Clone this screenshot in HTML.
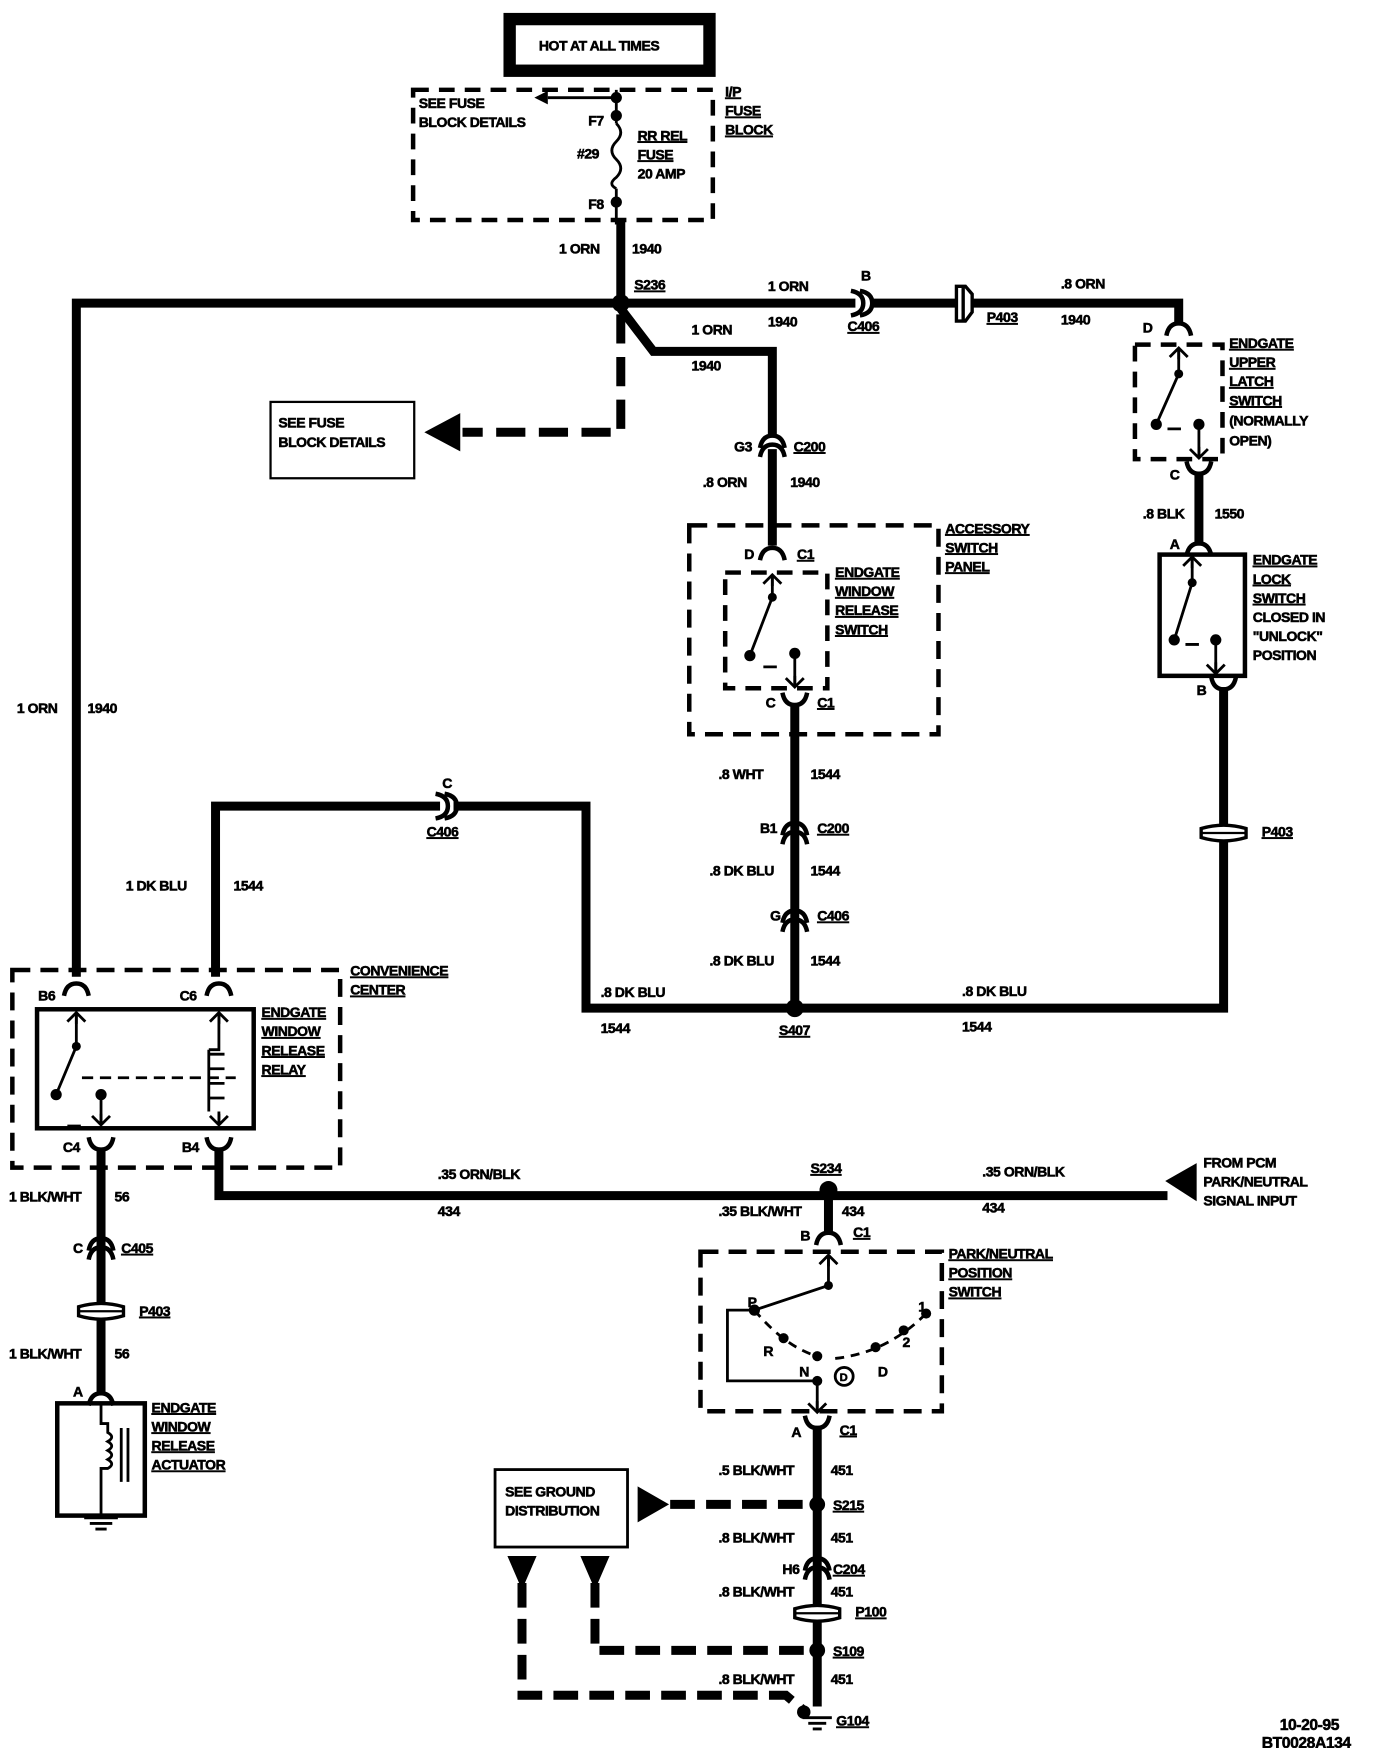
<!DOCTYPE html>
<html><head><meta charset="utf-8"><style>
html,body{margin:0;padding:0;background:#fff}
svg{display:block}
text{font-family:"Liberation Sans",sans-serif;font-weight:bold;font-size:12.5px;fill:#000;stroke:#000;stroke-width:0.5px;letter-spacing:-0.4px}
.u{text-decoration:underline}
</style></head><body>
<svg width="1392" height="1748" viewBox="0 0 1240 1557" preserveAspectRatio="none" xmlns="http://www.w3.org/2000/svg">
<defs>
<path id="cap" d="M-11,7 Q-9,-4 0,-4 Q9,-4 11,7" fill="none" stroke="#000" stroke-width="4"/>
<path id="cup" d="M-11,-7 Q-9,4 0,4 Q9,4 11,-7" fill="none" stroke="#000" stroke-width="4"/>
<g id="inl"><use href="#cap" y="-3"/><use href="#cap" y="5"/></g>
<path id="arrU" d="M-8,8 L0,0 L8,8 M0,0 V10" fill="none" stroke="#000" stroke-width="2.5"/>
<path id="arrD" d="M-8,-8 L0,0 L8,-8 M0,0 V-10" fill="none" stroke="#000" stroke-width="2.5"/>
<g id="pass"><path d="M-20,-4 Q0,-10 20,-4 V4 Q0,10 -20,4 Z" fill="#fff" stroke="#000" stroke-width="3"/><path d="M-20,0 H20" stroke="#000" stroke-width="2"/></g>
</defs>
<g fill="none" stroke="#000" stroke-linecap="butt">
<rect x="454" y="17" width="178" height="46" stroke-width="11"/>
<rect x="368" y="80" width="267" height="116" stroke-width="4" stroke-dasharray="14,9"/>
<path d="M549,80 V110 M549,168 V200" stroke-width="2.5"/>
<path d="M549,110 q8,8 0,16 q-8,8 0,16 q8,8 0,16 q-8,6 0,10" stroke-width="2.5"/>
<path d="M549,87 H488" stroke-width="2.5"/>
<path d="M553,196 V270 M553,270 H68 V870" stroke-width="8"/>
<path d="M553,270 H762 M778,270 H852 M862,270 H1050 V288" stroke-width="8"/>
<path d="M553,275 L582,313 H688 V388" stroke-width="8"/>
<path d="M553,280 V385 H412" stroke-width="8" stroke-dasharray="26,12"/>
<path d="M688,400 V486" stroke-width="8"/>
<path d="M708,628 V898" stroke-width="8"/>
<path d="M708,898 H522 V718 H404 M392,718 H192 V870" stroke-width="8"/>
<path d="M708,898 H1090 V612" stroke-width="8"/>
<path d="M1068,422 V486" stroke-width="8"/>
<path d="M195,1025 V1065 H1040" stroke-width="8"/>
<path d="M90,1025 V1242" stroke-width="8"/>
<path d="M738,1065 V1098" stroke-width="8"/>
<path d="M728,1270 V1520" stroke-width="8"/>
<rect x="614" y="468" width="222" height="186" stroke-width="4" stroke-dasharray="16,9"/>
<rect x="646" y="510" width="91" height="103" stroke-width="4" stroke-dasharray="14,9"/>
<rect x="1011" y="307" width="78" height="102" stroke-width="4" stroke-dasharray="14,9"/>
<rect x="1033" y="494" width="76" height="108" stroke-width="4"/>
<rect x="11" y="864" width="292" height="176" stroke-width="4" stroke-dasharray="16,9"/>
<rect x="33" y="899" width="193" height="106" stroke-width="4"/>
<rect x="624" y="1115" width="215" height="142" stroke-width="4" stroke-dasharray="16,9"/>
<rect x="51" y="1250" width="78" height="100" stroke-width="4"/>
<rect x="441" y="1309" width="118" height="69" stroke-width="2.5"/>
<rect x="241" y="358" width="128" height="68" stroke-width="2"/>
<path d="M597,1340 H722" stroke-width="8" stroke-dasharray="22,10"/>
<path d="M530,1410 V1470 H722" stroke-width="8" stroke-dasharray="22,10"/>
<path d="M465,1410 V1510 H700 L718,1525" stroke-width="8" stroke-dasharray="22,10"/>
</g>
<g>
<use href="#inl" x="770" y="270" transform="rotate(90 770 270)"/>
<use href="#inl" x="400" y="718" transform="rotate(90 400 718)"/>
<use href="#cap" x="1050" y="292"/>
<use href="#cup" x="1068" y="418"/>
<use href="#cap" x="1068" y="488"/>
<use href="#cup" x="1090" y="610"/>
<use href="#inl" x="688" y="395"/>
<use href="#cap" x="688" y="492"/>
<use href="#cup" x="708" y="624"/>
<use href="#inl" x="708" y="740"/>
<use href="#inl" x="708" y="818"/>
<use href="#cap" x="68" y="880"/>
<use href="#cap" x="195" y="880"/>
<use href="#cup" x="90" y="1020"/>
<use href="#cup" x="195" y="1020"/>
<use href="#inl" x="90" y="1110"/>
<use href="#cap" x="90" y="1245"/>
<use href="#cap" x="738" y="1102"/>
<use href="#cup" x="728" y="1268"/>
<use href="#inl" x="728" y="1395"/>
<use href="#pass" x="1090" y="742"/>
<use href="#pass" x="90" y="1168"/>
<use href="#pass" x="728" y="1437"/>
<path d="M852,255 H860 L866,262 V278 L860,286 H852 Z M858,255 V286" fill="#fff" stroke="#000" stroke-width="3"/>
</g>
<g fill="#000">
<circle cx="553" cy="270" r="8"/><circle cx="708" cy="898" r="8"/><circle cx="738" cy="1060" r="8"/>
<circle cx="728" cy="1340" r="7"/><circle cx="728" cy="1470" r="7"/><circle cx="716" cy="1525" r="6"/>
<circle cx="549" cy="87" r="5"/><circle cx="549" cy="103" r="5"/><circle cx="549" cy="180" r="5"/>
<path d="M488,81 L476,87 L488,93 Z"/>
<path d="M378,385 L410,368 V402 Z"/>
<path d="M1038,1052 L1066,1036 V1070 Z"/>
<path d="M596,1340 L568,1324 V1356 Z"/>
<path d="M452,1386 H478 L465,1416 Z M517,1386 H543 L530,1416 Z"/>
</g>
<g fill="none" stroke="#000" stroke-width="2.5">
<use href="#arrU" x="688" y="512"/><path d="M688,512 V532 L668,584 M680,594 H692 M708,582 V612"/><use href="#arrD" x="708" y="612"/>
<use href="#arrU" x="1050" y="310"/><path d="M1050,310 V333 L1030,378 M1040,382 H1052 M1068,378 V408"/><use href="#arrD" x="1068" y="408"/>
<use href="#arrU" x="1062" y="496"/><path d="M1062,496 V519 L1046,570 M1056,574 H1068 M1083,570 V600"/><use href="#arrD" x="1083" y="600"/>
<use href="#arrU" x="68" y="902"/><path d="M68,902 V932 L50,975 M60,1003 H72 M90,975 V1002"/><use href="#arrD" x="90" y="1002"/>
<path d="M73,960 H210" stroke-dasharray="10,6"/>
<use href="#arrU" x="195" y="902"/><path d="M195,902 V935 H186 M186,935 V990 M186,939 H200 M186,952 H200 M186,965 H200 M186,978 H200 M195,990 V1002"/><use href="#arrD" x="195" y="1002"/>
<use href="#arrU" x="738" y="1118"/><path d="M738,1118 V1145 L672,1167 M672,1167 H648 V1230 H728 V1258"/><use href="#arrD" x="728" y="1258"/>
<path d="M672,1167 Q700,1200 728,1208 M744,1210 Q790,1205 825,1170" stroke-dasharray="8,6"/>
<path d="M90,1250 V1268 H96 V1276 q7,4 0,8 q7,4 0,8 q7,4 0,8 q7,4 0,8 H90 V1352 M108,1272 V1320 M114,1272 V1320"/>
<path d="M75,1352 H105 M80,1357 H100 M85,1362 H95 M715,1530 H741 M720,1535 H736 M724,1540 H732"/>
<circle cx="752" cy="1226" r="8"/>
</g>
<g fill="#000">
<circle cx="688" cy="532" r="4"/><circle cx="668" cy="584" r="5"/><circle cx="708" cy="582" r="5"/>
<circle cx="1050" cy="333" r="4"/><circle cx="1030" cy="378" r="5"/><circle cx="1068" cy="378" r="5"/>
<circle cx="1062" cy="519" r="4"/><circle cx="1046" cy="570" r="5"/><circle cx="1083" cy="570" r="5"/>
<circle cx="68" cy="932" r="4"/><circle cx="50" cy="975" r="5"/><circle cx="90" cy="975" r="5"/>
<circle cx="738" cy="1145" r="4"/><circle cx="672" cy="1167" r="5"/><circle cx="698" cy="1192" r="4.5"/>
<circle cx="728" cy="1208" r="4.5"/><circle cx="728" cy="1230" r="4.5"/><circle cx="780" cy="1200" r="4.5"/>
<circle cx="805" cy="1185" r="4.5"/><circle cx="825" cy="1170" r="4.5"/>
</g>
<text x="480" y="45">HOT AT ALL TIMES</text>
<text x="373" y="96">SEE FUSE</text><text x="373" y="113">BLOCK DETAILS</text>
<text x="524" y="112">F7</text><text x="514" y="141">#29</text><text x="524" y="186">F8</text>
<text x="568" y="125" class="u">RR REL</text><text x="568" y="142" class="u">FUSE</text><text x="568" y="159">20 AMP</text>
<text x="646" y="86" class="u">I/P</text><text x="646" y="103" class="u">FUSE</text><text x="646" y="120" class="u">BLOCK</text>
<text x="498" y="226">1 ORN</text><text x="563" y="226">1940</text>
<text x="565" y="258" class="u">S236</text>
<text x="684" y="259">1 ORN</text><text x="684" y="291">1940</text>
<text x="767" y="250">B</text><text x="755" y="295" class="u">C406</text>
<text x="879" y="287" class="u">P403</text>
<text x="945" y="257">.8 ORN</text><text x="945" y="289">1940</text>
<text x="616" y="298">1 ORN</text><text x="616" y="330">1940</text>
<text x="248" y="381">SEE FUSE</text><text x="248" y="398">BLOCK DETAILS</text>
<text x="654" y="402">G3</text><text x="707" y="402" class="u">C200</text>
<text x="626" y="434">.8  ORN</text><text x="704" y="434">1940</text>
<text x="1018" y="296">D</text>
<text x="1095" y="310" class="u">ENDGATE</text><text x="1095" y="327" class="u">UPPER</text><text x="1095" y="344" class="u">LATCH</text><text x="1095" y="361" class="u">SWITCH</text><text x="1095" y="379">(NORMALLY</text><text x="1095" y="397">OPEN)</text>
<text x="1042" y="427">C</text>
<text x="1018" y="462">.8 BLK</text><text x="1082" y="462">1550</text>
<text x="1042" y="489">A</text>
<text x="1116" y="503" class="u">ENDGATE</text><text x="1116" y="520" class="u">LOCK</text><text x="1116" y="537" class="u">SWITCH</text><text x="1116" y="554">CLOSED  IN</text><text x="1116" y="571">"UNLOCK"</text><text x="1116" y="588">POSITION</text>
<text x="1066" y="619">B</text><text x="1124" y="745" class="u">P403</text>
<text x="842" y="475" class="u">ACCESSORY</text><text x="842" y="492" class="u">SWITCH</text><text x="842" y="509" class="u">PANEL</text>
<text x="663" y="498">D</text><text x="710" y="498" class="u">C1</text>
<text x="744" y="514" class="u">ENDGATE</text><text x="744" y="531" class="u">WINDOW</text><text x="744" y="548" class="u">RELEASE</text><text x="744" y="565" class="u">SWITCH</text>
<text x="682" y="630">C</text><text x="728" y="630" class="u">C1</text>
<text x="640" y="694">.8  WHT</text><text x="722" y="694">1544</text>
<text x="677" y="742">B1</text><text x="728" y="742" class="u">C200</text>
<text x="632" y="780">.8 DK BLU</text><text x="722" y="780">1544</text>
<text x="686" y="820">G</text><text x="728" y="820" class="u">C406</text>
<text x="632" y="860">.8 DK BLU</text><text x="722" y="860">1544</text>
<text x="394" y="702">C</text><text x="380" y="745" class="u">C406</text>
<text x="15" y="635">1 ORN</text><text x="78" y="635">1940</text>
<text x="112" y="793">1  DK  BLU</text><text x="208" y="793">1544</text>
<text x="535" y="888">.8 DK BLU</text><text x="535" y="920">1544</text>
<text x="694" y="922" class="u">S407</text>
<text x="857" y="887">.8 DK BLU</text><text x="857" y="919">1544</text>
<text x="312" y="869" class="u">CONVENIENCE</text><text x="312" y="886" class="u">CENTER</text>
<text x="34" y="891">B6</text><text x="160" y="891">C6</text>
<text x="233" y="906" class="u">ENDGATE</text><text x="233" y="923" class="u">WINDOW</text><text x="233" y="940" class="u">RELEASE</text><text x="233" y="957" class="u">RELAY</text>
<text x="56" y="1026">C4</text><text x="162" y="1026">B4</text>
<text x="8" y="1070">1 BLK/WHT</text><text x="102" y="1070">56</text>
<text x="65" y="1116">C</text><text x="108" y="1116" class="u">C405</text>
<text x="124" y="1172" class="u">P403</text>
<text x="8" y="1210">1 BLK/WHT</text><text x="102" y="1210">56</text>
<text x="65" y="1244">A</text>
<text x="135" y="1258" class="u">ENDGATE</text><text x="135" y="1275" class="u">WINDOW</text><text x="135" y="1292" class="u">RELEASE</text><text x="135" y="1309" class="u">ACTUATOR</text>
<text x="390" y="1050">.35 ORN/BLK</text><text x="390" y="1083">434</text>
<text x="722" y="1045" class="u">S234</text>
<text x="875" y="1048">.35 ORN/BLK</text><text x="875" y="1080">434</text>
<text x="1072" y="1040">FROM PCM</text><text x="1072" y="1057">PARK/NEUTRAL</text><text x="1072" y="1074">SIGNAL INPUT</text>
<text x="640" y="1083">.35 BLK/WHT</text><text x="750" y="1083">434</text>
<text x="713" y="1105">B</text><text x="760" y="1102" class="u">C1</text>
<text x="845" y="1121" class="u">PARK/NEUTRAL</text><text x="845" y="1138" class="u">POSITION</text><text x="845" y="1155" class="u">SWITCH</text>
<text x="666" y="1164">P</text><text x="680" y="1208">R</text><text x="712" y="1226">N</text><text x="748" y="1230" style="font-size:10px">D</text><text x="782" y="1226">D</text><text x="818" y="1168">1</text><text x="804" y="1200">2</text>
<text x="705" y="1280">A</text><text x="748" y="1278" class="u">C1</text>
<text x="640" y="1314">.5 BLK/WHT</text><text x="740" y="1314">451</text>
<text x="742" y="1345" class="u">S215</text>
<text x="450" y="1333">SEE GROUND</text><text x="450" y="1350">DISTRIBUTION</text>
<text x="640" y="1374">.8 BLK/WHT</text><text x="740" y="1374">451</text>
<text x="697" y="1402">H6</text><text x="742" y="1402" class="u">C204</text>
<text x="640" y="1422">.8 BLK/WHT</text><text x="740" y="1422">451</text>
<text x="762" y="1440" class="u">P100</text>
<text x="742" y="1475" class="u">S109</text>
<text x="640" y="1500">.8 BLK/WHT</text><text x="740" y="1500">451</text>
<text x="745" y="1537" class="u">G104</text>
<text x="1140" y="1541" style="font-size:14px">10-20-95</text>
<text x="1124" y="1557" style="font-size:14px">BT0028A134</text>
</svg>
</body></html>
